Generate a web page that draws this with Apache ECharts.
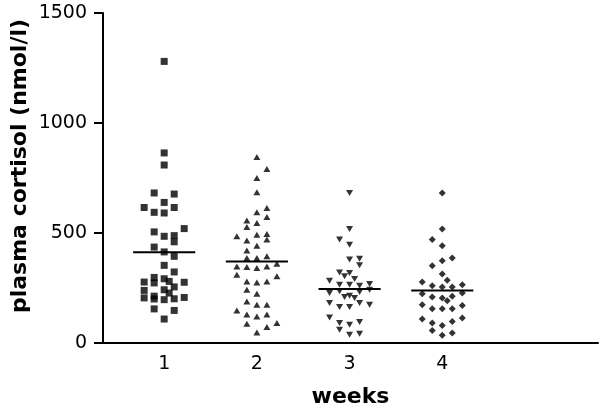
<!DOCTYPE html>
<html><head><meta charset="utf-8">
<script src="https://cdn.jsdelivr.net/npm/echarts@6/dist/echarts.min.js"></script>
<style>html,body{margin:0;padding:0;background:#fff}#c{width:600px;height:408px}</style>
</head><body><div id="c"></div>
<script>
// ---- data ----
const weeks = [1, 2, 3, 4];
const xTickLabels = ['1', '2', '3', '4'];
const yTicks = [0, 500, 1000, 1500];
const xAxisTitle = 'weeks';
const yAxisTitle = 'plasma cortisol (nmol/l)';

// plasma cortisol per animal (nmol/l) and horizontal jitter column of each point
const week1Values  = [1280, 864, 809, 682, 677, 639, 616, 616, 594, 591, 520, 505, 485, 488, 460, 436, 414, 394, 353, 323, 298, 273, 292, 280, 277, 255, 276, 239, 242, 227, 205, 213, 200, 197, 201, 207, 155, 148, 109];
const week1Columns = [0, 0, 0, -1, 1, 0, -2, 1, -1, 0, 2, -1, 0, 1, 1, -1, 0, 1, 0, 1, -1, -1, 0, 0.5, -2, 1, 2, -2, 0, 0.5, -2, -1, -1, 0, 1, 2, -1, 1, 0];

const week2Values  = [845, 791, 750, 685, 614, 594, 573, 557, 545, 527, 485, 492, 495, 466, 470, 442, 421, 386, 386, 394, 360, 348, 345, 341, 348, 310, 303, 280, 275, 280, 242, 224, 189, 174, 174, 148, 129, 121, 129, 88, 73, 91, 48];
const week2Columns = [0, 1, 0, 0, 1, 0, 1, -1, 0, -1, -2, 0, 1, -1, 1, 0, -1, -1, 0, 1, 2, -2, -1, 0, 1, -2, 2, -1, 0, 1, -1, 0, -1, 0, 1, -2, -1, 0, 1, -1, 1, 2, 0];

const week3Values  = [682, 518, 470, 447, 379, 383, 353, 321, 303, 318, 291, 283, 265, 265, 260, 268, 227, 235, 209, 215, 205, 232, 242, 182, 164, 164, 182, 174, 116, 91, 83, 95, 60, 38, 42];
const week3Columns = [0, 0, -1, 0, 0, 1, 1, -1, -0.5, 0, 0.5, -2, -1, 0, 1, 2, -2, -1, -0.5, 0, 0.5, 1, 2, -2, -1, 0, 1, 2, -2, -1, 0, 1, -1, 0, 1];

const week4Values  = [682, 518, 470, 442, 374, 386, 351, 314, 285, 277, 260, 255, 255, 265, 224, 209, 205, 192, 212, 227, 174, 156, 156, 156, 170, 109, 91, 80, 98, 114, 57, 35, 45];
const week4Columns = [0, 0, -1, 0, 0, 1, -1, 0, 0.5, -2, -1, 0, 1, 2, -2, -1, 0, 0.5, 1, 2, -2, -1, 0, 1, 2, -2, -1, 0, 1, 2, -1, 0, 1];

// group means (horizontal lines)
const meanValues = [412, 371, 245, 239];

// ---- chart ----
const JITTER = 0.108;      // width of one jitter column, in week units
const MEAN_HALF = 0.335;   // half length of mean line, in week units

function pts(week, vals, cols) {
  return vals.map((v, i) => [week + cols[i] * JITTER, v]);
}
const groups = [
  {vals: week1Values, cols: week1Columns, symbol: 'rect', size: [7, 7], rot: 0},
  {vals: week2Values, cols: week2Columns, symbol: 'triangle', size: [7, 6], rot: 0},
  {vals: week3Values, cols: week3Columns, symbol: 'triangle', size: [7, 6], rot: 180},
  {vals: week4Values, cols: week4Columns, symbol: 'diamond', size: [7, 7], rot: 0}
];

const series = [];
weeks.forEach((w, k) => {
  series.push({
    type: 'line',
    data: [[w - MEAN_HALF, meanValues[k]], [w + MEAN_HALF, meanValues[k]]],
    symbol: 'none',
    lineStyle: {color: '#000', width: 2},
    silent: true,
    z: 2
  });
});
weeks.forEach((w, k) => {
  const g = groups[k];
  series.push({
    type: 'scatter',
    data: pts(w, g.vals, g.cols),
    symbol: g.symbol,
    symbolSize: g.size,
    symbolRotate: g.rot,
    itemStyle: {color: '#000'},
    z: 3
  });
});

const chart = echarts.init(document.getElementById('c'), null, {renderer: 'canvas'});
chart.setOption({
  animation: false,
  backgroundColor: '#fff',
  grid: {left: 103, right: 2, top: 13, bottom: 65, containLabel: false, outerBoundsMode: 'none'},
  xAxis: {
    type: 'value',
    min: 0.34, max: 5.68,
    name: xAxisTitle,
    nameLocation: 'middle',
    nameGap: 43,
    nameTextStyle: {fontFamily: 'DejaVu Sans', fontWeight: 'bold', fontSize: 22, color: '#000'},
    axisLine: {onZero: false, lineStyle: {color: '#000', width: 2}},
    axisTick: {show: false},
    splitLine: {show: false},
    axisLabel: {
      customValues: weeks,
      formatter: v => xTickLabels[weeks.indexOf(Math.round(v))] || '',
      margin: 12,
      fontFamily: 'DejaVu Sans', fontSize: 19, color: '#000'
    }
  },
  yAxis: {
    type: 'value',
    min: yTicks[0], max: yTicks[yTicks.length - 1], interval: yTicks[1] - yTicks[0],
    axisLine: {show: true, onZero: false, lineStyle: {color: '#000', width: 2}},
    axisTick: {show: true, length: 9, lineStyle: {color: '#000', width: 2}},
    splitLine: {show: false},
    axisLabel: {margin: 16, fontFamily: 'DejaVu Sans', fontSize: 19, color: '#000',
      formatter: v => String(v)}
  },
  graphic: [{
    type: 'text',
    x: 20, y: 166,
    rotation: Math.PI / 2,
    style: {
      text: yAxisTitle,
      fontFamily: 'DejaVu Sans', fontWeight: 'bold', fontSize: 22, fill: '#000',
      textAlign: 'center', textVerticalAlign: 'middle'
    }
  }],
  series: series
});
</script>
</body></html>
